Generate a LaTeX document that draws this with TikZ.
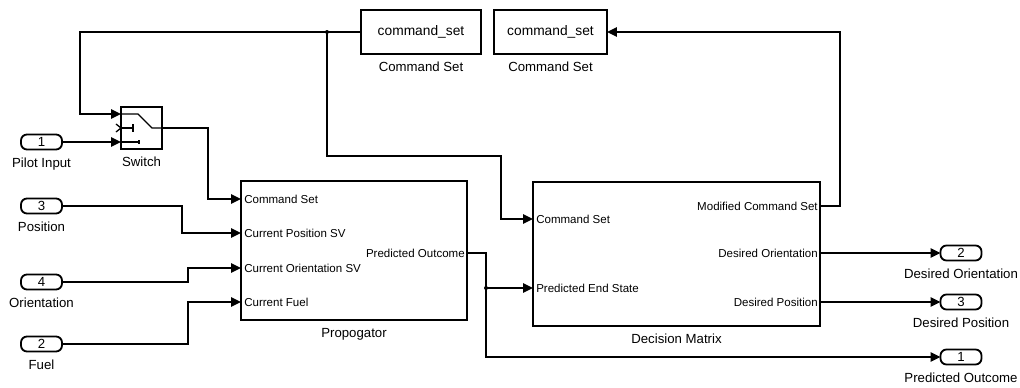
\documentclass[tikz,border=0pt]{standalone}
\usepackage{fontspec}
\setmainfont{Liberation Sans}
\usetikzlibrary{positioning,calc,arrows.meta}
\begin{document}
\begin{tikzpicture}[x=0.025cm,y=-0.025cm,
  blk/.style={draw,line width=1.3pt,inner sep=0pt,outer sep=0pt},
  io/.style={blk,rounded corners=0.15cm,minimum width=1.025cm,minimum height=0.375cm,font=\fontsize{9.4}{11}\selectfont},
  lbl/.style={inner sep=0pt,font=\fontsize{9.4}{11}\selectfont},
  plbl/.style={inner sep=0pt,font=\fontsize{8.2}{10}\selectfont},
  sig/.style={line width=1.3pt,-{Triangle[length=7pt,width=6.5pt]}}]
\useasboundingbox (0,0) rectangle (1020,388);
% inports
\node[io] (pin) at (41.5,142) {1};
\node[io] (pos) at (41.5,206) {3};
\node[io] (ori) at (41.5,282) {4};
\node[io] (fuel) at (41.5,344) {2};
\node[lbl,below=0.2cm of pin] (pinl) {Pilot Input};
\node[lbl,below=0.2cm of pos] (posl) {Position};
\node[lbl,below=0.2cm of ori] (oril) {Orientation};
\node[lbl,below=0.2cm of fuel] (fuell) {Fuel};
% switch with its icon
\node[blk,minimum width=1.025cm,minimum height=1.05cm] (sw) at (141.5,128) {};
\node[lbl,below=0.2cm of sw] (swl) {Switch};
\coordinate (sw1) at ($(sw.north west)!1/6!(sw.south west)$);
\coordinate (sw2) at (sw.west);
\coordinate (sw3) at ($(sw.north west)!5/6!(sw.south west)$);
\draw[line width=0.9pt] (sw1) -- ++(17,0) -- ++(14,14) -- (sw.east);
\draw[line width=0.9pt] (sw2) -- ++(12,0) ++(0,-4) -- ++(0,8);
\draw[line width=0.9pt] (sw3) -- ++(18,0) ++(0,-2) -- ++(0,4);
\draw[line width=0.9pt] (sw2) ++(-5,-4) -- ++(5,4) -- ++(-5,4);
% from / goto
\node[blk,minimum width=3cm,minimum height=1.1cm,font=\fontsize{9.8}{11}\selectfont] (gt1) at (421,32) {command\_set};
\node[blk,minimum width=2.825cm,minimum height=1.1cm,font=\fontsize{9.8}{11}\selectfont] (gt2) at (550.5,32) {command\_set};
\node[lbl,below=0.2cm of gt1] (gt1l) {Command Set};
\node[lbl,below=0.2cm of gt2] (gt2l) {Command Set};
% propogator
\node[blk,minimum width=5.65cm,minimum height=3.475cm] (prop) at (354,250.5) {};
\node[lbl,below=0.2cm of prop] (propl) {Propogator};
\node[plbl,anchor=west] (p1) at (244,199) {Command Set};
\node[plbl,anchor=west] (p2) at (244,233) {Current Position SV};
\node[plbl,anchor=west] (p3) at (244,268) {Current Orientation SV};
\node[plbl,anchor=west] (p4) at (244,302) {Current Fuel};
\node[plbl,anchor=east] (po) at (465,253) {Predicted Outcome};
% decision matrix
\node[blk,minimum width=7.175cm,minimum height=3.6cm] (dm) at (676.5,254) {};
\node[lbl,below=0.2cm of dm] (dml) {Decision Matrix};
\node[plbl,anchor=west] (d1) at (536,219) {Command Set};
\node[plbl,anchor=west] (d2) at (536,288) {Predicted End State};
\node[plbl,anchor=east] (m1) at (818,206) {Modified Command Set};
\node[plbl,anchor=east] (d3) at (818,253) {Desired Orientation};
\node[plbl,anchor=east] (d4) at (818,302) {Desired Position};
% outports
\node[io] (oori) at (961,253) {2};
\node[io] (opos) at (961,302) {3};
\node[io] (oout) at (961,357) {1};
\node[lbl,below=0.2cm of oori] (oooril) {Desired Orientation};
\node[lbl,below=0.2cm of opos] (oposl) {Desired Position};
\node[lbl,below=0.2cm of oout] (ooutl) {Predicted Outcome};
% signals
\draw[sig] (pin.east) -- (sw3);
\draw[sig] (sw.east) -- ++(46,0) |- (prop.west |- p1);
\draw[sig] (pos.east) -- ++(120,0) |- (prop.west |- p2);
\draw[sig] (ori.east) -- ++(126,0) |- (prop.west |- p3);
\draw[sig] (fuel.east) -- ++(126,0) |- (prop.west |- p4);
\draw[sig] (prop.east |- po) -- ++(19,0) coordinate (bp) |- (oout.west);
\fill (bp |- d2) circle[radius=2];
\draw[sig] (bp |- d2) -- (dm.west |- d2);
\draw[sig] (dm.east |- m1) -- ++(20,0) |- (gt2.east);
\draw[sig] (gt1.west) -- ++(-281,0) |- (sw1);
\coordinate (bt) at ($(gt1.west)+(-34,0)$);
\fill (bt) circle[radius=2];
\draw[sig] (bt) |- ++(174,124) |- (dm.west |- d1);
\draw[sig] (dm.east |- d3) -- (oori.west);
\draw[sig] (dm.east |- d4) -- (opos.west);
\end{tikzpicture}
\end{document}
